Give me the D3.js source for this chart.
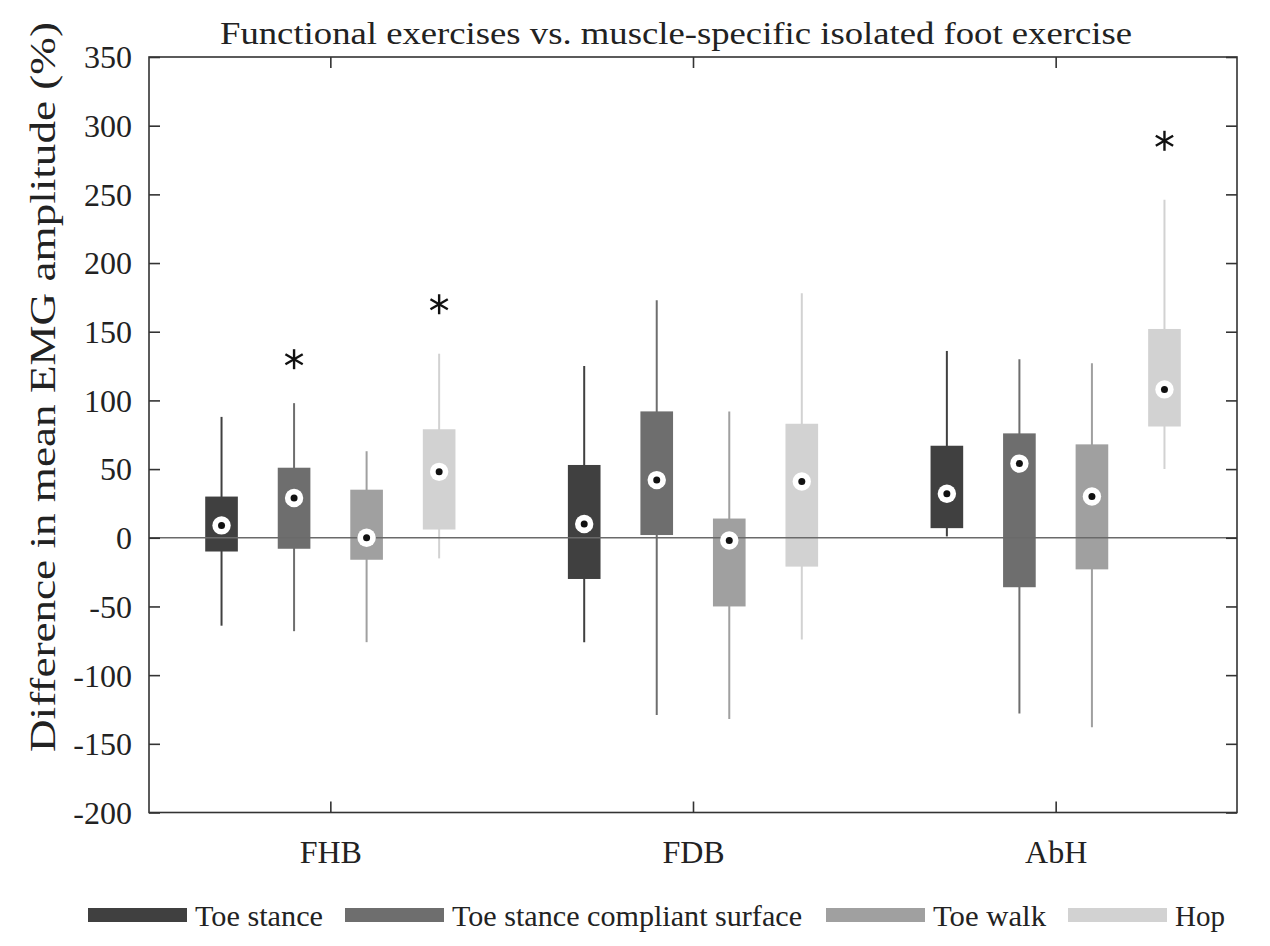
<!DOCTYPE html>
<html><head><meta charset="utf-8">
<script src="https://cdn.jsdelivr.net/npm/d3@7"></script>
<style>body{margin:0;background:#fff}svg{display:block}text{font-family:"Liberation Serif","Times New Roman",serif;fill:#222}</style>
</head><body>
<script>
const groups = ["FHB", "FDB", "AbH"];
const series = ["Toe stance", "Toe stance compliant surface", "Toe walk", "Hop"];
const colors = ["#404040", "#6e6e6e", "#a0a0a0", "#d2d2d2"];
// per series: [group][stat] -> whiskerLow, q1, median, q3, whiskerHigh
const toeStance = [[-64, -10, 9, 30, 88], [-76, -30, 10, 53, 125], [1, 7, 32, 67, 136]];
const toeStanceCompliant = [[-68, -8, 29, 51, 98], [-129, 2, 42, 92, 173], [-128, -36, 54, 76, 130]];
const toeWalk = [[-76, -16, 0, 35, 63], [-132, -50, -2, 14, 92], [-138, -23, 30, 68, 127]];
const hop = [[-15, 6, 48, 79, 134], [-74, -21, 41, 83, 178], [50, 81, 108, 152, 246]];
// significance markers: [groupIndex, seriesIndex, value]
const stars = [[0, 1, 130], [0, 3, 170], [2, 3, 289]];
const yTicks = [-200, -150, -100, -50, 0, 50, 100, 150, 200, 250, 300, 350];
const title = "Functional exercises vs. muscle-specific isolated foot exercise";
const yTitle = "Difference in mean EMG amplitude (%)";

const allSeries = [toeStance, toeStanceCompliant, toeWalk, hop];
const W = 1270, H = 946;
const L = 149, R = 1237, T = 57, B = 812.5;
const svg = d3.select("body").append("svg").attr("width", W).attr("height", H);

const x = d3.scaleLinear().domain([0.5, 3.5]).range([L, R]);
const y = d3.scaleLinear().domain([-200, 350]).range([B, T]);
const offsets = [-0.3, -0.1, 0.1, 0.3];
const bw = x(0.09) - x(0);

const g = svg.append("g");
allSeries.forEach((s, si) => {
  s.forEach((d, gi) => {
    const cx = x(gi + 1 + offsets[si]);
    g.append("line").attr("x1", cx).attr("x2", cx).attr("y1", y(d[0])).attr("y2", y(d[4]))
      .attr("stroke", colors[si]).attr("stroke-width", 2);
    g.append("rect").attr("x", cx - bw / 2).attr("width", bw)
      .attr("y", y(d[3])).attr("height", y(d[1]) - y(d[3])).attr("fill", colors[si]);
  });
});
// zero line
svg.append("line").attr("x1", L).attr("x2", R).attr("y1", y(0)).attr("y2", y(0))
  .attr("stroke", "#6a6a6a").attr("stroke-width", 1.6);
// medians
allSeries.forEach((s, si) => {
  s.forEach((d, gi) => {
    const cx = x(gi + 1 + offsets[si]);
    svg.append("circle").attr("cx", cx).attr("cy", y(d[2])).attr("r", 9.2).attr("fill", "#fff");
    svg.append("circle").attr("cx", cx).attr("cy", y(d[2])).attr("r", 3.5).attr("fill", "#111");
  });
});
// stars
stars.forEach(([gi, si, v]) => {
  const cx = x(gi + 1 + offsets[si]), cy = y(v);
  const r = 10;
  for (let k = 0; k < 3; k++) {
    const a = Math.PI / 2 + k * Math.PI / 3;
    svg.append("line").attr("x1", cx - r * Math.cos(a)).attr("y1", cy - r * Math.sin(a))
      .attr("x2", cx + r * Math.cos(a)).attr("y2", cy + r * Math.sin(a))
      .attr("stroke", "#111").attr("stroke-width", 2.4);
  }
});

// axes
const tl = 11;
const yl = svg.append("g").attr("transform", `translate(${L},0)`)
  .call(d3.axisLeft(y).tickValues(yTicks).tickSize(-tl).tickPadding(17).tickFormat(d => String(d)));
const yr = svg.append("g").attr("transform", `translate(${R},0)`)
  .call(d3.axisRight(y).tickValues(yTicks).tickSize(-tl).tickFormat(""));
const xb = svg.append("g").attr("transform", `translate(0,${B})`)
  .call(d3.axisBottom(x).tickValues([1, 2, 3]).tickSize(-tl).tickPadding(28).tickFormat((d, i) => groups[i]));
const xt = svg.append("g").attr("transform", `translate(0,${T})`)
  .call(d3.axisTop(x).tickValues([1, 2, 3]).tickSize(-tl).tickFormat(""));
[yl, yr, xb, xt].forEach(a => {
  a.select(".domain").remove();
  a.selectAll("line").attr("stroke", "#333").attr("stroke-width", 1.6);
  a.selectAll("text").style("font-size", "32px").attr("fill", "#222");
});
yl.selectAll("text").attr("dy", "0.34em");
xb.selectAll("text").attr("dy", "0.71em");
svg.append("rect").attr("x", L).attr("y", T).attr("width", R - L).attr("height", B - T)
  .attr("fill", "none").attr("stroke", "#333").attr("stroke-width", 1.6);

// title
svg.append("text").attr("x", 676).attr("y", 44).attr("text-anchor", "middle")
  .attr("textLength", 912).attr("lengthAdjust", "spacingAndGlyphs")
  .style("font-size", "32px").text(title);
svg.append("text").attr("transform", "translate(55,387) rotate(-90)").attr("text-anchor", "middle")
  .attr("textLength", 730).attr("lengthAdjust", "spacingAndGlyphs")
  .style("font-size", "35px").text(yTitle);

// legend
const legX = [88, 345, 826, 1068];
const legLen = [128, 350, 113, 50];
series.forEach((s, i) => {
  svg.append("rect").attr("x", legX[i]).attr("y", 908).attr("width", 99).attr("height", 14).attr("fill", colors[i]);
  svg.append("text").attr("x", legX[i] + 107).attr("y", 925.5).style("font-size", "30px")
    .attr("textLength", legLen[i]).attr("lengthAdjust", "spacingAndGlyphs").text(s);
});
</script>
</body></html>
